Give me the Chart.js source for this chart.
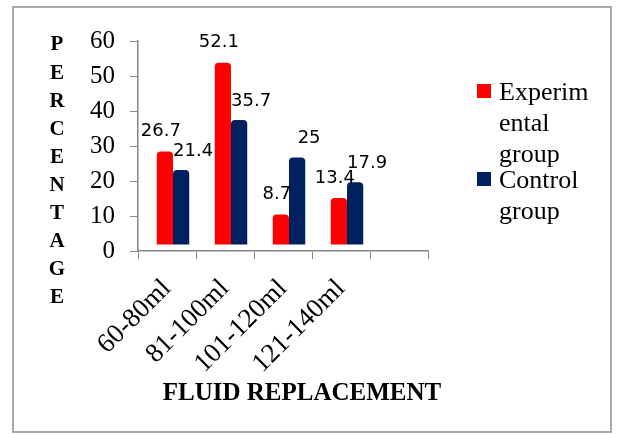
<!DOCTYPE html>
<html>
<head>
<meta charset="utf-8">
<script src="https://cdn.jsdelivr.net/npm/chart.js@4"></script>
<style>
  html, body { margin: 0; padding: 0; background: #fff; }
  #wrap { width: 619px; height: 435px; position: relative; }
</style>
</head>
<body>
<div id="wrap"><canvas id="fluidChart"></canvas></div>
<script>
// Chart data
const categories = ['60-80ml', '81-100ml', '101-120ml', '121-140ml', ''];
const experimental = [26.7, 52.1, 8.7, 13.4, null];
const control = [21.4, 35.7, 25, 17.9, null];
const seriesNames = ['Experimental group', 'Control group'];
const yTicks = [0, 10, 20, 30, 40, 50, 60];
const yTitle = 'PERCENTAGE';
const xTitle = 'FLUID REPLACEMENT';

const RED = '#ff0000';
const NAVY = '#002060';
const AXIS = '#868686';
const SERIF = '"Liberation Serif", "Times New Roman", serif';

// fake 3D depth shift of the bars
const DEPTH = { x: 6, y: -6 };

// wrap text into lines no wider than maxW (breaks long words too)
function wrapText(ctx, text, maxW) {
  const lines = [];
  let line = '';
  text.split(' ').forEach(word => {
    const tryLine = line ? line + ' ' + word : word;
    if (ctx.measureText(tryLine).width <= maxW) { line = tryLine; return; }
    if (line) lines.push(line);
    line = '';
    for (const ch of word) {
      if (ctx.measureText(line + ch).width > maxW && line) { lines.push(line); line = ''; }
      line += ch;
    }
  });
  if (line) lines.push(line);
  return lines;
}

const decorPlugin = {
  id: 'decor',
  beforeDatasetsDraw(chart) {
    chart.ctx.save();
    chart.ctx.translate(DEPTH.x, DEPTH.y);
  },
  afterDatasetsDraw(chart) {
    const ctx = chart.ctx;
    ctx.restore();
    // value labels
    ctx.save();
    ctx.font = '18px "DejaVu Sans", sans-serif';
    ctx.fillStyle = '#000';
    ctx.textAlign = 'center';
    ctx.textBaseline = 'middle';
    chart.data.datasets.forEach((ds, di) => {
      const meta = chart.getDatasetMeta(di);
      const dx = di === 0 ? -4 : 12;
      const dy = di === 0 ? -20 : -19;
      meta.data.forEach((bar, i) => {
        const v = ds.data[i];
        if (v == null) return;
        ctx.fillText(String(v), bar.x + DEPTH.x + dx, bar.y + DEPTH.y + dy);
      });
    });
    ctx.restore();
  },
  afterDraw(chart) {
    const ctx = chart.ctx;
    const area = chart.chartArea;
    ctx.save();

    // outer frame
    ctx.strokeStyle = '#a9a9a9';
    ctx.lineWidth = 2;
    ctx.strokeRect(13, 7, 598, 425);

    // vertical stacked y title
    ctx.fillStyle = '#000';
    ctx.font = 'bold 21px ' + SERIF;
    ctx.textAlign = 'center';
    ctx.textBaseline = 'middle';
    [...yTitle].forEach((ch, i) => ctx.fillText(ch, 57, 45 + i * 28.1));

    // x title
    ctx.font = 'bold 25px ' + SERIF;
    ctx.fillText(xTitle, (area.left + area.right) / 2 + 19, 394);

    // legend
    ctx.font = '26px ' + SERIF;
    ctx.textAlign = 'left';
    ctx.textBaseline = 'alphabetic';
    const colors = [RED, NAVY];
    let y = 100;
    seriesNames.forEach((name, i) => {
      ctx.fillStyle = colors[i];
      ctx.fillRect(477, y - 16, 14, 14);
      ctx.fillStyle = '#000';
      const lines = wrapText(ctx, name, 94);
      lines.forEach((ln, j) => ctx.fillText(ln, 499, y + j * 31));
      y += lines.length * 31 - 5;
    });
    ctx.restore();
  }
};

new Chart(document.getElementById('fluidChart'), {
  type: 'bar',
  data: {
    labels: categories,
    datasets: [
      { label: seriesNames[0], data: experimental, backgroundColor: RED,
        borderRadius: { topLeft: 4, topRight: 4 }, borderSkipped: 'bottom' },
      { label: seriesNames[1], data: control, backgroundColor: NAVY,
        borderRadius: { topLeft: 4, topRight: 4 }, borderSkipped: 'bottom' }
    ]
  },
  options: {
    responsive: true,
    maintainAspectRatio: false,
    animation: false,
    devicePixelRatio: 1,
    layout: { padding: { top: 41, right: 191, bottom: 0, left: 0 } },
    datasets: { bar: { categoryPercentage: 0.56, barPercentage: 1 } },
    plugins: { legend: { display: false }, tooltip: { enabled: false } },
    scales: {
      x: {
        grid: { drawOnChartArea: false, drawTicks: true, tickLength: 8, color: AXIS, offset: true },
        border: { color: AXIS, width: 1.5 },
        ticks: { color: '#000', font: { family: SERIF, size: 27 }, minRotation: 45, maxRotation: 45, padding: 14 },
        afterFit(s) { s.height = 184; }
      },
      y: {
        min: 0,
        max: 60,
        afterBuildTicks(s) { s.ticks = yTicks.map(v => ({ value: v })); },
        grid: { drawOnChartArea: false, drawTicks: true, tickLength: 8, color: AXIS },
        border: { color: AXIS, width: 1.5 },
        ticks: { color: '#000', font: { family: SERIF, size: 25 }, padding: 15 },
        afterFit(s) { s.width = 138; }
      }
    }
  },
  plugins: [decorPlugin]
});
</script>
</body>
</html>
